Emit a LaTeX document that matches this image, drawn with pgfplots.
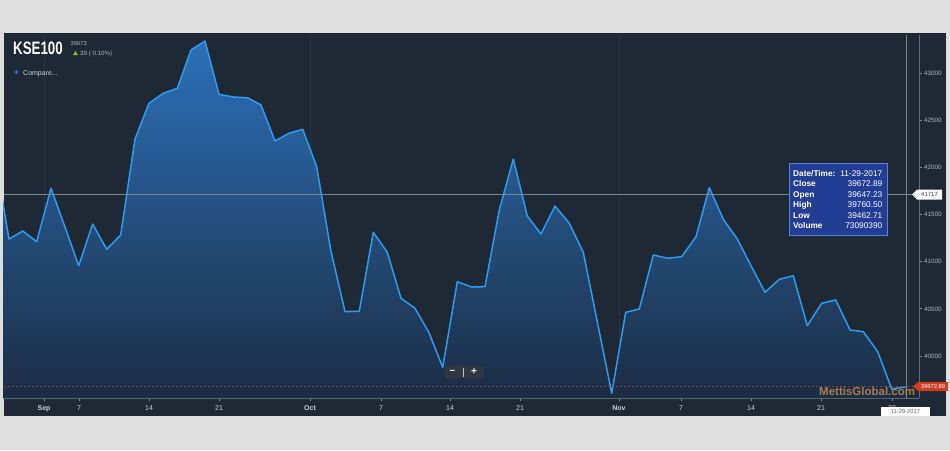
\documentclass[border=0pt]{standalone}
\usepackage{pgfplots}
\pgfplotsset{compat=1.18}
\usepackage{pgfplotstable}
\usepackage{fontspec}
\setmainfont{Liberation Sans}
\newfontfamily\condfont[FakeStretch=0.74]{Liberation Sans}
\definecolor{outer}{RGB}{222,222,222}
\definecolor{panel}{RGB}{31,41,53}
\definecolor{axisgray}{RGB}{98,108,120}
\definecolor{tickgray}{RGB}{130,138,148}
\definecolor{xlab}{RGB}{205,210,215}
\definecolor{ylab}{RGB}{175,182,190}
\definecolor{gridc}{RGB}{42,53,66}
\definecolor{linec}{RGB}{46,156,240}
\definecolor{filltop}{RGB}{44,112,184}
\definecolor{fillbot}{RGB}{28,45,68}
\definecolor{cross}{RGB}{125,133,142}
\definecolor{lastred}{RGB}{150,62,60}
\definecolor{redlab}{RGB}{205,62,32}
\definecolor{tipfill}{RGB}{34,62,148}
\definecolor{tipdraw}{RGB}{90,130,215}
\definecolor{wm}{RGB}{190,140,80}
\definecolor{smallgray}{RGB}{170,176,183}
\definecolor{upgreen}{RGB}{130,200,40}
\definecolor{plusblue}{RGB}{50,130,220}
\definecolor{btn}{RGB}{48,55,63}

\pgfplotstableread{
x y
-5 42120
9 41240
22.7 41325
36.7 41212
51 41778
65 41367
78.7 40957
92.7 41399
106.7 41131
120.7 41283
135 42300
149 42679
163.3 42785
177.3 42838
191 43244
205 43339
219 42774
233.3 42746
247.3 42738
261 42661
275 42279
289 42361
302.7 42403
316.7 42007
330.7 41124
345 40470
359.3 40475
373.3 41311
387.3 41099
401 40612
415 40506
429 40247
442.7 39880
457.3 40788
471.7 40731
485 40735
499.3 41548
513.3 42088
527.3 41484
541 41293
555 41590
569.3 41407
583.3 41099
597.5 40352
611.7 39605
625.7 40463
639.3 40498
653.3 41071
667.7 41036
681.7 41053
696 41265
709.3 41784
723.3 41449
737.3 41240
751 40957
765 40675
779.3 40813
793.3 40851
807.3 40321
821.7 40559
835.7 40594
850 40276
863.3 40258
877.7 40046
891.7 39650
905.7 39672.89
}\kse

\begin{document}
\begin{tikzpicture}
% background
\begin{scope}[x=1pt,y=-1pt]
\fill[outer] (0,0) rectangle (950,450);
\fill[panel] (4,33) rectangle (946,416);
\end{scope}

\begin{axis}[
  at={(3pt,-398pt)}, anchor=south west,
  scale only axis, width=916pt, height=363pt,
  xmin=3, xmax=919, ymin=39554.8, ymax=43402.8,
  axis x line*=bottom, axis y line*=right,
  axis line style={draw=axisgray, line width=0.9pt},
  xtick={44,79,149,219,310,381,450,520,619,681,751,821,892},
  xticklabels={\textbf{Sep},7,14,21,\textbf{Oct},7,14,21,\textbf{Nov},7,14,21,28},
  ytick={40000,40500,41000,41500,42000,42500,43000},
  scaled y ticks=false,
  tick align=outside, major tick length=3pt,
  tick style={draw=tickgray, line width=0.7pt},
  xticklabel style={font=\fontsize{7}{8}\selectfont, text=xlab, yshift=-1pt},
  yticklabel style={font=\fontsize{6.3}{7}\selectfont, text=ylab, xshift=-1.5pt},
  yticklabel={\pgfmathprintnumber[fixed,precision=0,1000 sep={}]{\tick}},
  /pgf/number format/assume math mode=true,
  extra x ticks={44,310,619},
  extra x tick labels={},
  extra x tick style={grid=major, major grid style={draw=gridc, line width=0.8pt}, major tick length=0pt},
]
\addplot[top color=filltop, bottom color=fillbot, draw=none] table[x=x,y=y] {\kse} -- (axis cs:905.7,39554.8) -- (axis cs:-5,39554.8) -- cycle;
\addplot[linec, line width=1.5pt, line join=round] table[x=x,y=y] {\kse};
\end{axis}

\begin{scope}[x=1pt,y=-1pt]
% last price dashed line
\draw[lastred, line width=0.7pt, dash pattern=on 2pt off 2pt] (4,386.7) -- (919,386.7);
% crosshair
\draw[cross, line width=0.7pt] (4,194.5) -- (914,194.5);
\draw[cross, line width=0.7pt] (906,35) -- (906,398);
% hovered value label
\fill[white] (912,194.5) -- (917,189.5) -- (942,189.5) -- (942,199.5) -- (917,199.5) -- cycle;
\node[text=black!75, font=\fontsize{6}{7}\selectfont, inner sep=0pt] at (929.5,194.5) {41717};
% last price label
\fill[redlab] (913,386.5) -- (918,382) -- (948,382) -- (948,391) -- (918,391) -- cycle;
\node[text=white, font=\fontsize{5.8}{7}\selectfont, inner sep=0pt] at (933,386.5) {39672.89};
% date label
\fill[white] (881,407) rectangle (930,416);
\node[text=black!60, font=\fontsize{5.8}{7}\selectfont, inner sep=0pt] at (905.5,411.8) {11-29-2017};
% tooltip
\draw[tipdraw, fill=tipfill, line width=0.8pt] (789,163.5) rectangle (887,235);
\foreach \yy/\lab/\val in {176.2/Date\slash Time:/11-29-2017, 186.8/Close/39672.89, 197.4/Open/39647.23, 207.8/High/39760.50, 218.4/Low/39462.71, 228.8/Volume/73090390}{
  \node[anchor=base west, text=white, font=\bfseries\fontsize{8.3}{9}\selectfont, inner sep=0pt] at (793,\yy) {\lab};
  \node[anchor=base east, text=white, font=\fontsize{8.3}{9}\selectfont, inner sep=0pt] at (882.5,\yy) {\val};
}
% watermark
\node[anchor=base west, text=wm, opacity=0.85, font=\bfseries\fontsize{11.5}{12}\selectfont, inner sep=0pt] at (819,395.5) {MettisGlobal.com};
% zoom buttons
\fill[btn, rounded corners=1.5pt] (445,366) rectangle (484,378.5);
\draw[white!70!btn, line width=0.4pt] (463.5,367.5) -- (463.5,377);
\node[text=white, font=\bfseries\fontsize{10}{10}\selectfont, inner sep=0pt] at (452.5,372) {\textendash};
\node[text=white, font=\bfseries\fontsize{10}{10}\selectfont, inner sep=0pt] at (474,372) {+};
% title block
\node[anchor=base west, text=white, font=\condfont\bfseries\fontsize{18}{18}\selectfont, inner sep=0pt] at (13,54.5) {KSE100};
\node[anchor=base west, text=smallgray, font=\fontsize{5.8}{6}\selectfont, inner sep=0pt] at (70.5,45.3) {39673};
\fill[upgreen] (73.2,55) -- (75.5,51) -- (77.8,55) -- cycle;
\node[anchor=base west, text=smallgray, font=\fontsize{6.2}{7}\selectfont, inner sep=0pt] at (80,55.8) {39 ( 0.10\%)};
\node[text=plusblue, font=\bfseries\fontsize{9}{9}\selectfont, inner sep=0pt] at (16.5,72.5) {+};
\node[anchor=base west, text=xlab, font=\fontsize{7}{8}\selectfont, inner sep=0pt] at (23,75.2) {Compare...};
\end{scope}
\end{tikzpicture}
\end{document}
